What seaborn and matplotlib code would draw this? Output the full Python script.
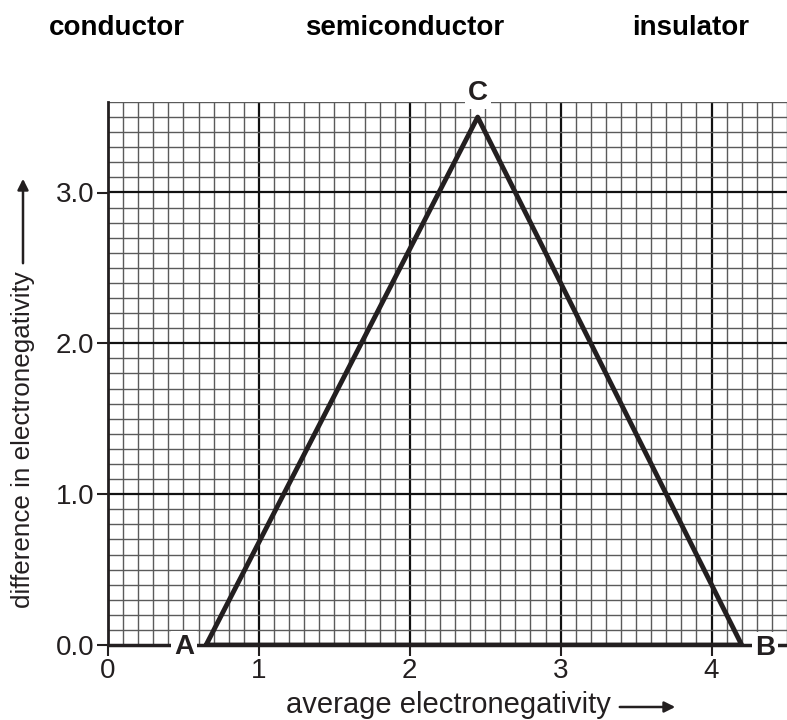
import matplotlib
matplotlib.use("Agg")
import matplotlib.pyplot as plt
import numpy as np
import pandas as pd
import seaborn as sns

# triangle vertices A -> C -> B -> A
vertex_labels = ["A", "C", "B", "A"]
avg_en = [0.65, 2.45, 4.2, 0.65]
diff_en = [0.0, 3.5, 0.0, 0.0]

x_ticks = [0, 1, 2, 3, 4]
y_ticks = [0.0, 1.0, 2.0, 3.0]
y_tick_labels = ["0.0", "1.0", "2.0", "3.0"]
regions = ["conductor", "semiconductor", "insulator"]

sns.set_style("white")
plt.rcParams["font.family"] = ["Liberation Sans", "DejaVu Sans"]

df = pd.DataFrame({"vertex": vertex_labels, "avg": avg_en, "diff": diff_en})

W, H = 787, 720
fig = plt.figure(figsize=(W / 100, H / 100), dpi=100)
ax = fig.add_axes([108 / W, 1 - 645 / H, 1 - 108 / W, (645 - 102) / H])
ax.set_xlim(0, 4.5)
ax.set_ylim(0, 3.6)

# graph paper grid
for v in np.arange(0.1, 4.55, 0.1):
    major = abs(v - round(v)) < 1e-6
    ax.axvline(v, color="#111111" if major else "#5a5a5a",
               lw=1.6 if major else 1.0, zorder=1)
for v in np.arange(0.1, 3.65, 0.1):
    major = abs(v - round(v)) < 1e-6
    ax.axhline(v, color="#111111" if major else "#5a5a5a",
               lw=1.6 if major else 1.0, zorder=1)

sns.lineplot(data=df, x="avg", y="diff", sort=False, estimator=None,
             color="#231f20", lw=3.5, ax=ax, zorder=3)
ax.axhline(0, color="#231f20", lw=2.5, zorder=2, clip_on=False)

for sp in ["top", "right", "bottom"]:
    ax.spines[sp].set_visible(False)
ax.spines["left"].set_linewidth(2)
ax.spines["left"].set_color("#231f20")

ax.set_xticks(x_ticks)
ax.set_xticklabels([str(t) for t in x_ticks])
ax.set_yticks(y_ticks)
ax.set_yticklabels(y_tick_labels)
ax.tick_params(axis="both", labelsize=20, length=8, width=1.5, color="#231f20",
               labelcolor="#231f20", direction="out")
ax.tick_params(axis="x", bottom=True, pad=1)
ax.tick_params(axis="y", left=True, pad=2)

ax.set_xlabel("")
ax.set_ylabel("")

bbox = dict(boxstyle="square,pad=0.12", fc="white", ec="none")
fig.text(184 / W, 1 - 647 / H, vertex_labels[0], ha="center", va="center",
         fontsize=20, fontweight="bold", color="#231f20", bbox=bbox, zorder=5)
fig.text(765 / W, 1 - 648 / H, vertex_labels[2], ha="center", va="center",
         fontsize=20, fontweight="bold", color="#231f20", bbox=bbox, zorder=5)
fig.text(478 / W, 1 - 93 / H, vertex_labels[1], ha="center", va="center",
         fontsize=20, fontweight="bold", color="#231f20", bbox=bbox, zorder=5)

for name, xc in zip(regions, [117, 405, 691]):
    fig.text(xc / W, 1 - 28 / H, name, ha="center", va="center",
             fontsize=20, fontweight="bold", color="#000000")

fig.text(448 / W, 1 - 705 / H, "average electronegativity",
         ha="center", va="center", fontsize=21, color="#231f20")
ax.annotate("", xy=(678 / W, 1 - 707 / H), xytext=(617 / W, 1 - 707 / H),
            xycoords="figure fraction",
            arrowprops=dict(arrowstyle="-|>", color="#231f20", lw=1.8,
                            mutation_scale=16))
fig.text(23 / W, 1 - 440 / H, "difference in electronegativity",
         ha="center", va="center", rotation=90, fontsize=18.7, color="#231f20")
ax.annotate("", xy=(23 / W, 1 - 176 / H), xytext=(23 / W, 1 - 266 / H),
            xycoords="figure fraction",
            arrowprops=dict(arrowstyle="-|>", color="#231f20", lw=1.8,
                            mutation_scale=16))

fig.savefig("out.png", dpi=100)
